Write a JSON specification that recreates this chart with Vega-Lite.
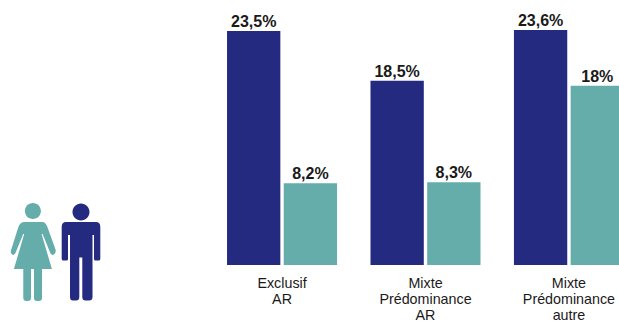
{
  "$schema": "https://vega.github.io/schema/vega-lite/v6.json",
  "width": 619,
  "height": 265,
  "padding": {"left": 0, "top": 0, "right": 0, "bottom": 62},
  "autosize": {"type": "none"},
  "background": "white",
  "view": {"stroke": null},
  "config": {"font": "Liberation Sans"},
  "datasets": {
    "parts": [
      {"categorie": "Exclusif|AR", "sexe": "homme", "taux": 23.5, "etiquette": "23,5%"},
      {"categorie": "Exclusif|AR", "sexe": "femme", "taux": 8.2, "etiquette": "8,2%"},
      {"categorie": "Mixte|Prédominance|AR", "sexe": "homme", "taux": 18.5, "etiquette": "18,5%"},
      {"categorie": "Mixte|Prédominance|AR", "sexe": "femme", "taux": 8.3, "etiquette": "8,3%"},
      {"categorie": "Mixte|Prédominance|autre", "sexe": "homme", "taux": 23.6, "etiquette": "23,6%"},
      {"categorie": "Mixte|Prédominance|autre", "sexe": "femme", "taux": 18, "etiquette": "18%"}
    ],
    "pictogrammes": [
      {"sexe": "femme", "niveau": 1.3},
      {"sexe": "homme", "niveau": 1.3}
    ]
  },
  "layer": [
    {
      "data": {"name": "parts"},
      "encoding": {
        "x": {
          "field": "categorie",
          "type": "nominal",
          "sort": null,
          "scale": {
            "domain": ["Exclusif|AR", "Mixte|Prédominance|AR", "Mixte|Prédominance|autre"],
            "range": [210.25, 640.75],
            "paddingInner": 0.233,
            "paddingOuter": 0.117
          },
          "axis": {
            "title": null,
            "domain": false,
            "ticks": false,
            "labelAngle": 0,
            "labelFontSize": 14.3,
            "labelColor": "#1a1a1a",
            "labelPadding": 11,
            "labelLineHeight": 16,
            "labelBaseline": "top",
            "labelExpr": "split(datum.value, '|')"
          }
        },
        "xOffset": {
          "field": "sexe",
          "type": "nominal",
          "scale": {"domain": ["homme", "femme"], "paddingInner": 0.06}
        },
        "y": {
          "field": "taux",
          "type": "quantitative",
          "scale": {"domain": [0, 26.61], "nice": false},
          "axis": null
        }
      },
      "layer": [
        {
          "mark": {"type": "bar"},
          "encoding": {
            "color": {
              "field": "sexe",
              "type": "nominal",
              "scale": {"domain": ["homme", "femme"], "range": ["#232a80", "#64adaa"]},
              "legend": null
            }
          }
        },
        {
          "mark": {"type": "text", "baseline": "alphabetic", "dy": -4, "fontSize": 16, "fontWeight": "bold", "color": "#1a1a1a"},
          "encoding": {"text": {"field": "etiquette"}}
        }
      ]
    },
    {
      "data": {"name": "pictogrammes"},
      "mark": {"type": "point", "filled": true, "opacity": 1, "size": 4, "strokeWidth": 0},
      "encoding": {
        "x": {
          "field": "sexe",
          "type": "nominal",
          "scale": {"type": "point", "domain": ["femme", "homme"], "range": [33.4, 81], "padding": 0},
          "axis": null
        },
        "y": {"field": "niveau", "type": "quantitative"},
        "color": {"field": "sexe", "type": "nominal", "legend": null},
        "shape": {
          "field": "sexe",
          "type": "nominal",
          "legend": null,
          "scale": {
            "domain": ["femme", "homme"],
            "range": [
              "M-0.5,-49 C4,-49 7.5,-45.4 7.5,-41 C7.5,-36.6 4,-33 -0.5,-33 C-5,-33 -8.5,-36.6 -8.5,-41 C-8.5,-45.4 -5,-49 -0.5,-49 Z M-9,-30 L9,-30 Q12,-30 14,-25 L22.3,-2 Q22.5,2 19,3 Q17.5,3 16.5,0 L9.2,-18 L8.2,-18 L18.5,17 L8.6,17 L8.6,46 Q8.6,49 5.5,49 L3.5,49 Q0.6,49 0.6,46 L0.6,17 L-2.4,17 L-2.4,46 Q-2.4,49 -5.5,49 L-7,49 Q-10.1,49 -10.1,46 L-10.1,17 L-19.5,17 L-9.2,-18 L-10.2,-18 L-17.5,0 Q-18.5,3 -20,3 Q-23.5,2 -22.3,-2 L-15,-25 Q-13,-30 -9,-30 Z",
              "M0,-48.5 C4.7,-48.5 8.5,-44.7 8.5,-40 C8.5,-35.3 4.7,-31.5 0,-31.5 C-4.7,-31.5 -8.5,-35.3 -8.5,-40 C-8.5,-44.7 -4.7,-48.5 0,-48.5 Z M-15,-30 L15,-30 Q19.3,-30 19.3,-25 L19.3,7 Q19.3,8.5 17.5,8.5 L14.5,8.5 Q13,8.5 13,7 L13,-17 L11.5,-17 L11.5,45 Q11.5,48.5 8,48.5 L4.5,48.5 Q1.3,48.5 1.3,45 L1.3,5.5 L-1.7,5.5 L-1.7,45 Q-1.7,48.5 -5,48.5 L-8,48.5 Q-11,48.5 -11,45 L-11,-17 L-13,-17 L-13,7 Q-13,8.5 -14.5,8.5 L-17.5,8.5 Q-19.3,8.5 -19.3,7 L-19.3,-25 Q-19.3,-30 -15,-30 Z"
            ]
          }
        }
      }
    }
  ],
  "resolve": {"scale": {"x": "independent"}}
}
